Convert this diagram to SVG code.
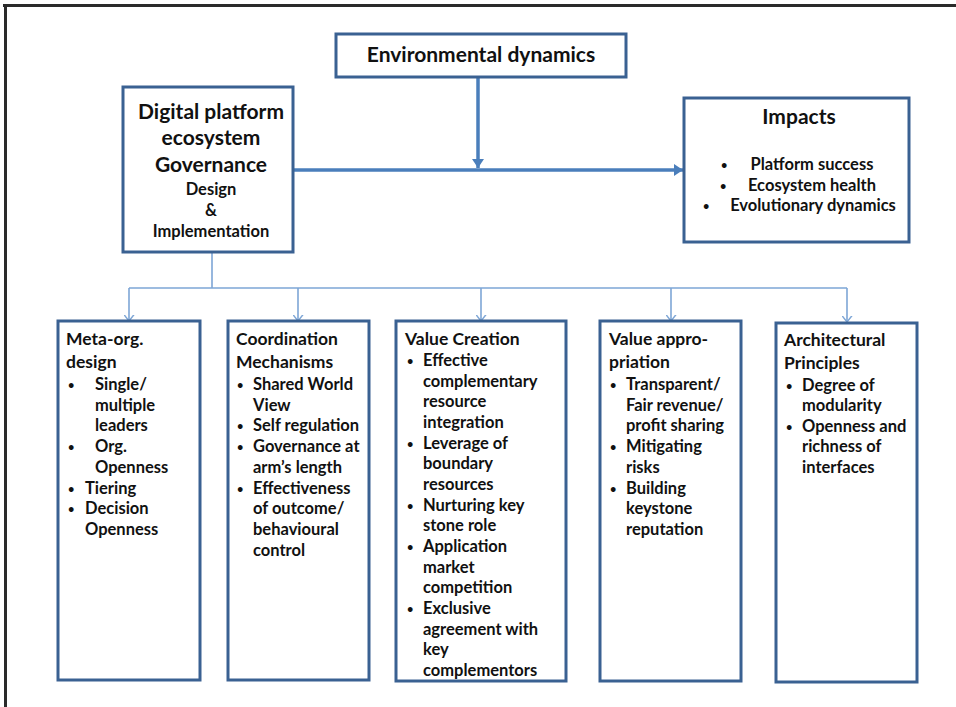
<svg xmlns="http://www.w3.org/2000/svg" width="956" height="707" viewBox="0 0 956 707">
<style>
  text { font-family: Lato, "Liberation Sans", sans-serif; font-weight: bold; fill: #111; }
  .box { fill: #fff; stroke: #3a6192; stroke-width: 3; }
  .thick { stroke: #4a7ebb; stroke-width: 3.5; fill: none; }
  .thin { stroke: #7ea6d6; stroke-width: 1.6; fill: none; }
  .h1 { font-size: 21px; }
  .h2 { font-size: 16.5px; }
  .hd { font-size: 17.5px; }
  .it { font-size: 16.5px; }
  .b { font-size: 11px; }
  .mid { text-anchor: middle; }
</style>
<defs>
  <marker id="ah" viewBox="0 0 10 10" markerUnits="userSpaceOnUse" markerWidth="9" markerHeight="12" refX="10" refY="5" orient="auto" preserveAspectRatio="none">
    <path d="M0,0 L10,5 L0,10 z" fill="#4a7ebb"/>
  </marker>
  <marker id="oh" viewBox="0 0 10 10" markerUnits="userSpaceOnUse" markerWidth="7" markerHeight="11" refX="9" refY="5" orient="auto" preserveAspectRatio="none">
    <path d="M0,0.5 L9,5 L0,9.5" fill="none" stroke="#7ea6d6" stroke-width="1.5"/>
  </marker>
</defs>
<rect width="956" height="707" fill="#fff"/>
<g id="frame">
  <line x1="3" y1="5.5" x2="956" y2="5.5" stroke="#2a2a2a" stroke-width="3"/>
  <line x1="5.5" y1="4" x2="5.5" y2="707" stroke="#2a2a2a" stroke-width="3"/>
</g>
<g id="connectors">
  <line class="thick" x1="478" y1="77" x2="478" y2="168" marker-end="url(#ah)"/>
  <line class="thick" x1="293" y1="170" x2="683" y2="170" marker-end="url(#ah)"/>
  <path class="thin" d="M212,252 V288 M129,288 H847"/>
  <line class="thin" x1="129" y1="288" x2="129" y2="321" marker-end="url(#oh)"/>
  <line class="thin" x1="298" y1="288" x2="298" y2="321" marker-end="url(#oh)"/>
  <line class="thin" x1="481" y1="288" x2="481" y2="321" marker-end="url(#oh)"/>
  <line class="thin" x1="671" y1="288" x2="671" y2="321" marker-end="url(#oh)"/>
  <line class="thin" x1="847" y1="288" x2="847" y2="322" marker-end="url(#oh)"/>
</g>
<g id="env">
  <rect class="box" x="336" y="34" width="290" height="43"/>
  <text class="h1 mid" x="481" y="62">Environmental dynamics</text>
</g>
<g id="governance">
  <rect class="box" x="123" y="87" width="170" height="165"/>
  <text class="h1 mid" x="211" y="119">Digital platform</text>
  <text class="h1 mid" x="211" y="145">ecosystem</text>
  <text class="h1 mid" x="211" y="172">Governance</text>
  <text class="h2 mid" x="211" y="195">Design</text>
  <text class="h2 mid" x="211" y="216">&amp;</text>
  <text class="h2 mid" x="211" y="237">Implementation</text>
</g>
<g id="impacts">
  <rect class="box" x="684" y="98" width="225" height="144"/>
  <text class="mid" x="799" y="124" font-size="21">Impacts</text>
  <text class="b" x="721" y="169">•</text>
  <text class="h2 mid" x="812" y="170">Platform success</text>
  <text class="b" x="720" y="190">•</text>
  <text class="h2 mid" x="812" y="191">Ecosystem health</text>
  <text class="b" x="703" y="210">•</text>
  <text class="h2 mid" x="813" y="211">Evolutionary dynamics</text>
</g>
<g id="metaorg">
  <rect class="box" x="58" y="321" width="142" height="359"/>
  <text class="hd" x="66" y="345">Meta-org.</text>
  <text class="hd" x="66" y="368">design</text>
  <text class="b" x="68" y="389">•</text><text class="it" x="95" y="390">Single/</text>
  <text class="it" x="95" y="411">multiple</text>
  <text class="it" x="95" y="431">leaders</text>
  <text class="b" x="68" y="451">•</text><text class="it" x="95" y="452">Org.</text>
  <text class="it" x="95" y="473">Openness</text>
  <text class="b" x="68" y="493">•</text><text class="it" x="85" y="494">Tiering</text>
  <text class="b" x="68" y="513">•</text><text class="it" x="85" y="514">Decision</text>
  <text class="it" x="85" y="535">Openness</text>
</g>
<g id="coordination">
  <rect class="box" x="228" y="321" width="141" height="359"/>
  <text class="hd" x="236" y="345">Coordination</text>
  <text class="hd" x="236" y="368">Mechanisms</text>
  <text class="b" x="237" y="389">•</text><text class="it" x="253" y="390">Shared  World</text>
  <text class="it" x="253" y="411">View</text>
  <text class="b" x="237" y="430">•</text><text class="it" x="253" y="431">Self regulation</text>
  <text class="b" x="237" y="451">•</text><text class="it" x="253" y="452">Governance at</text>
  <text class="it" x="253" y="473">arm’s length</text>
  <text class="b" x="237" y="493">•</text><text class="it" x="253" y="494">Effectiveness</text>
  <text class="it" x="253" y="514">of outcome/</text>
  <text class="it" x="253" y="535">behavioural</text>
  <text class="it" x="253" y="556">control</text>
</g>
<g id="valuecreation">
  <rect class="box" x="396" y="321" width="170" height="360"/>
  <text class="hd" x="405" y="345">Value Creation</text>
  <text class="b" x="407" y="365">•</text><text class="it" x="423" y="366">Effective</text>
  <text class="it" x="423" y="387">complementary</text>
  <text class="it" x="423" y="407">resource</text>
  <text class="it" x="423" y="428">integration</text>
  <text class="b" x="407" y="448">•</text><text class="it" x="423" y="449">Leverage of</text>
  <text class="it" x="423" y="469">boundary</text>
  <text class="it" x="423" y="490">resources</text>
  <text class="b" x="407" y="510">•</text><text class="it" x="423" y="511">Nurturing key</text>
  <text class="it" x="423" y="531">stone role</text>
  <text class="b" x="407" y="551">•</text><text class="it" x="423" y="552">Application</text>
  <text class="it" x="423" y="573">market</text>
  <text class="it" x="423" y="593">competition</text>
  <text class="b" x="407" y="613">•</text><text class="it" x="423" y="614">Exclusive</text>
  <text class="it" x="423" y="635">agreement with</text>
  <text class="it" x="423" y="655">key</text>
  <text class="it" x="423" y="676">complementors</text>
</g>
<g id="valueappropriation">
  <rect class="box" x="600" y="321" width="141" height="360"/>
  <text class="hd" x="609" y="345">Value appro-</text>
  <text class="hd" x="609" y="368">priation</text>
  <text class="b" x="610" y="389">•</text><text class="it" x="626" y="390">Transparent/</text>
  <text class="it" x="626" y="411">Fair revenue/</text>
  <text class="it" x="626" y="431">profit sharing</text>
  <text class="b" x="610" y="451">•</text><text class="it" x="626" y="452">Mitigating</text>
  <text class="it" x="626" y="473">risks</text>
  <text class="b" x="610" y="493">•</text><text class="it" x="626" y="494">Building</text>
  <text class="it" x="626" y="514">keystone</text>
  <text class="it" x="626" y="535">reputation</text>
</g>
<g id="architectural">
  <rect class="box" x="776" y="323" width="141" height="359"/>
  <text class="hd" x="784" y="346">Architectural</text>
  <text class="hd" x="784" y="369">Principles</text>
  <text class="b" x="786" y="390">•</text><text class="it" x="802" y="391">Degree of</text>
  <text class="it" x="802" y="411">modularity</text>
  <text class="b" x="786" y="431">•</text><text class="it" x="802" y="432">Openness and</text>
  <text class="it" x="802" y="452">richness of</text>
  <text class="it" x="802" y="473">interfaces</text>
</g>
</svg>
